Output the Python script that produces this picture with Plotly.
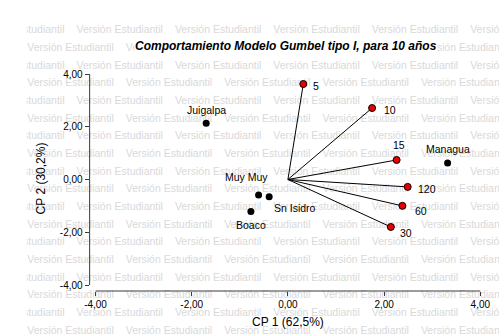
import plotly.graph_objects as go

# Site scores (rows) on the first two principal components
sites = ["Juigalpa", "Managua", "Muy Muy", "Sn Isidro", "Boaco"]
site_cp1 = [-1.70, 3.32, -0.61, -0.39, -0.77]
site_cp2 = [2.13, 0.63, -0.59, -0.65, -1.21]

# Variable loadings (return periods, years)
periods = ["5", "10", "15", "120", "60", "30"]
load_cp1 = [0.32, 1.75, 2.26, 2.49, 2.38, 2.14]
load_cp2 = [3.62, 2.71, 0.74, -0.28, -1.00, -1.80]

tick_vals = [-4, -2, 0, 2, 4]
tick_text = ["-4,00", "-2,00", "0,00", "2,00", "4,00"]

title = "Comportamiento Modelo Gumbel tipo I, para 10 años"
x_title = "CP 1 (62,5%)"
y_title = "CP 2 (30,2%)"
watermark = "Versión Estudiantil"

# label offsets in pixels (dx right, dy down)
site_offsets = {"Juigalpa": (0, -13), "Managua": (0, -14), "Muy Muy": (-12, -18),
                "Sn Isidro": (26, 11), "Boaco": (0, 14)}
period_offsets = {"5": (13, 2), "10": (18, 2), "15": (2, -15),
                  "120": (19, 2), "60": (19, 5), "30": (15, 6)}

W, H = 502, 335
FONT = "Liberation Sans, Arial, sans-serif"

fig = go.Figure()

# background watermark grid, in pixel units of a hidden subplot
wm_x, wm_y = [], []
row_y0, row_step, n_rows = 30.7, 17.67, 18
for r in range(n_rows):
    start = -27.3 if r % 2 == 0 else 22.7
    y = row_y0 + r * row_step
    x = start
    while x < W:
        wm_x.append(x)
        wm_y.append(y)
        x += 100
fig.add_trace(go.Scatter(
    x=wm_x, y=wm_y, mode="text", text=[watermark] * len(wm_x),
    textposition="middle right", cliponaxis=True,
    textfont=dict(family=FONT, size=10.5, color="#d9d9d9"),
    marker=dict(size=0.1), hoverinfo="skip", showlegend=False,
    xaxis="x", yaxis="y"))

# loading vectors
vx, vy = [], []
for a, b in zip(load_cp1, load_cp2):
    vx += [0, a, None]
    vy += [0, b, None]
fig.add_trace(go.Scatter(x=vx, y=vy, mode="lines", line=dict(color="#000000", width=1),
                         hoverinfo="skip", showlegend=False, xaxis="x2", yaxis="y2"))
fig.add_trace(go.Scatter(x=load_cp1, y=load_cp2, mode="markers",
                         marker=dict(size=7, color="#e80000", line=dict(color="#000000", width=1)),
                         showlegend=False, xaxis="x2", yaxis="y2"))
fig.add_trace(go.Scatter(x=site_cp1, y=site_cp2, mode="markers",
                         marker=dict(size=7, color="#000000"),
                         showlegend=False, xaxis="x2", yaxis="y2"))

annotations = []
for name, a, b in zip(sites, site_cp1, site_cp2):
    dx, dy = site_offsets[name]
    annotations.append(dict(x=a, y=b, xref="x2", yref="y2", text=name, showarrow=False,
                            xanchor="center", yanchor="middle",
                            xshift=dx, yshift=-dy, font=dict(family=FONT, size=10.5, color="#000")))
for name, a, b in zip(periods, load_cp1, load_cp2):
    dx, dy = period_offsets[name]
    annotations.append(dict(x=a, y=b, xref="x2", yref="y2", text=name, showarrow=False,
                            xanchor="center", yanchor="middle",
                            xshift=dx, yshift=-dy, font=dict(family=FONT, size=10.5, color="#000")))

annotations.append(dict(x=286 / W, y=1 - 46 / H, xref="paper", yref="paper",
                        xanchor="center", yanchor="middle",
                        text="<b><i>" + title + "</i></b>", showarrow=False,
                        bgcolor="#ffffff", borderpad=0,
                        font=dict(family=FONT, size=12, color="#000")))
annotations.append(dict(x=288 / W, y=1 - 322 / H, xref="paper", yref="paper", text=x_title,
                        xanchor="center", yanchor="middle",
                        showarrow=False, font=dict(family=FONT, size=12, color="#000")))
annotations.append(dict(x=37 / W, y=1 - 178 / H, xref="paper", yref="paper", text=y_title,
                        xanchor="center", yanchor="middle",
                        showarrow=False, textangle=-90, font=dict(family=FONT, size=12, color="#000")))

# plot-area geometry in pixels
left, right, top, bottom = 86, 490, 60, 291
px_x0, px_per_x = 287.5, 48.875
px_y0, px_per_y = 179.5, 26.375
xr = [(left - px_x0) / px_per_x, (right - px_x0) / px_per_x]
yr = [(px_y0 - bottom) / px_per_y, (px_y0 - top) / px_per_y]

axis_color = "#3a3a3a"
tick_font = dict(family=FONT, size=10, color="#000")

fig.update_layout(
    width=W, height=H, margin=dict(l=0, r=0, t=0, b=0),
    paper_bgcolor="#ffffff", plot_bgcolor="rgba(0,0,0,0)",
    separators=",.",
    xaxis=dict(domain=[22 / W, 1], range=[22, W], visible=False, fixedrange=True),
    yaxis=dict(domain=[0, 1 - 20 / H], range=[H, 20], visible=False, fixedrange=True),
    xaxis2=dict(domain=[left / W, right / W], range=xr, anchor="y2",
                showline=False, showgrid=False, zeroline=False,
                ticks="outside", ticklen=4, tickcolor=axis_color, tickwidth=1,
                tickvals=tick_vals, ticktext=tick_text, tickfont=tick_font),
    yaxis2=dict(domain=[1 - bottom / H, 1 - top / H], range=yr, anchor="x2",
                showline=False, showgrid=False, zeroline=False,
                ticks="outside", ticklen=4, tickcolor=axis_color, tickwidth=1,
                tickvals=tick_vals, ticktext=tick_text, tickfont=tick_font),
    shapes=[
        dict(type="line", xref="x2", yref="y2 domain", x0=tick_vals[0], x1=tick_vals[-1],
             y0=0, y1=0, line=dict(color=axis_color, width=1)),
        dict(type="line", xref="x2 domain", yref="y2", x0=0, x1=0,
             y0=tick_vals[0], y1=tick_vals[-1], line=dict(color=axis_color, width=1)),
    ],
    annotations=annotations,
)

fig.write_html("out.html")
